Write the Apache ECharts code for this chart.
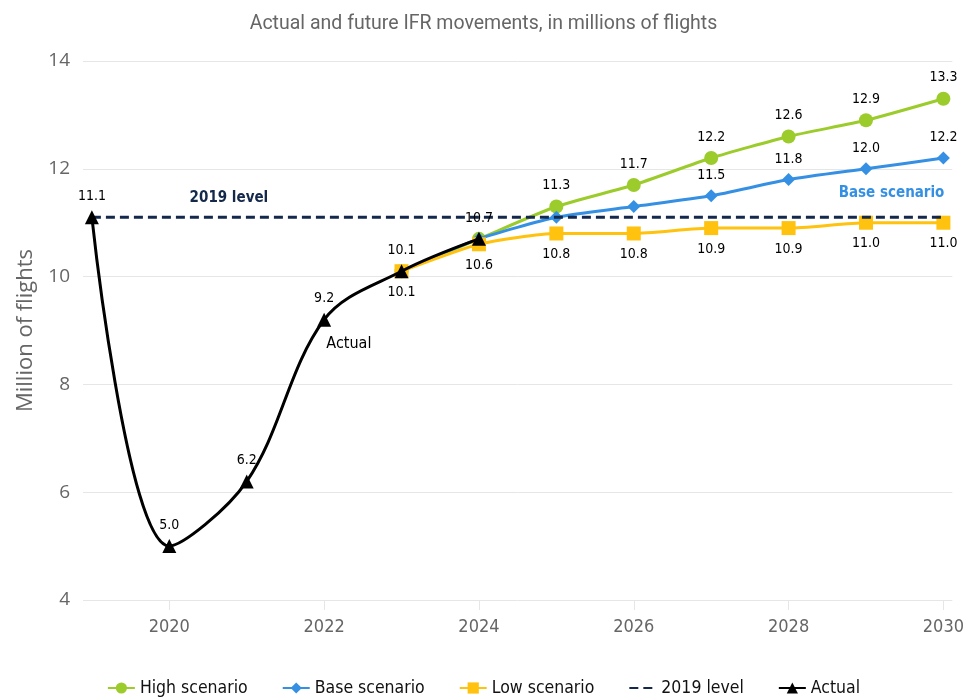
<!DOCTYPE html>
<html>
<head>
<meta charset="utf-8">
<script src="https://cdn.jsdelivr.net/npm/echarts@6/dist/echarts.min.js"></script>
<style>
  html, body { margin: 0; padding: 0; background: #fff; }
  #chart { width: 967px; height: 697px; }
</style>
</head>
<body>
<div id="chart"></div>
<script>
// actual flights, millions
const actualYears = [2019, 2020, 2021, 2022, 2023, 2024]
const actualValues = [11.1, 5.0, 6.2, 9.2, 10.1, 10.7]

// scenarios start from 2023
const forecastYears = [2023, 2024, 2025, 2026, 2027, 2028, 2029, 2030]
const highValues = [10.1, 10.7, 11.3, 11.7, 12.2, 12.6, 12.9, 13.3]
const baseValues = [10.1, 10.7, 11.1, 11.3, 11.5, 11.8, 12.0, 12.2]
const lowValues = [10.1, 10.6, 10.8, 10.8, 10.9, 10.9, 11.0, 11.0]

const level2019Years = [2019, 2030]
const level2019Value = 11.1

const xTickValues = [2020, 2022, 2024, 2026, 2028, 2030]

const green = '#9ccb2c'
const blue = '#3590e3'
const yellow = '#ffc20e'
const navy = '#14284b'
const labelFont = '"DejaVu Sans Condensed", "DejaVu Sans", sans-serif'

// build points, labels shown only from a given year
function points (years, values, labelFrom) {
  return years.map((y, i) => ({
    value: [y, values[i]],
    label: { show: y >= labelFrom }
  }))
}

const fmt = p => p.value[1].toFixed(1)

const dataLabel = (position) => ({
  position: position,
  distance: 7,
  color: '#000',
  fontSize: 14,
  fontFamily: labelFont,
  formatter: fmt
})

const chart = echarts.init(document.getElementById('chart'))

const option = {
  animation: false,
  title: {
    text: 'Actual and future IFR movements, in millions of flights',
    left: 'center',
    top: 9,
    textStyle: {
      color: '#666',
      fontSize: 19.5,
      fontWeight: 'normal',
      fontFamily: 'Roboto, sans-serif'
    }
  },
  legend: {
    top: 674,
    left: 'center',
    itemWidth: 27,
    itemHeight: 14,
    itemGap: 34,
    textStyle: {
      color: '#111',
      fontSize: 17.5,
      fontFamily: labelFont
    },
    data: [
      'High scenario',
      'Base scenario',
      'Low scenario',
      { name: '2019 level', itemStyle: { opacity: 0 } },
      'Actual'
    ]
  },
  grid: {
    left: 83,
    right: 7,
    top: 61,
    bottom: 97
  },
  xAxis: {
    type: 'value',
    min: 2018.885,
    max: 2030.115,
    axisLine: { show: false },
    splitLine: { show: false },
    axisTick: {
      show: true,
      customValues: xTickValues,
      length: 10,
      lineStyle: { color: '#e6e6e6' }
    },
    axisLabel: {
      customValues: xTickValues,
      formatter: v => String(v),
      color: '#666',
      fontSize: 18,
      margin: 18,
      fontFamily: labelFont
    }
  },
  yAxis: {
    type: 'value',
    min: 4,
    max: 14,
    interval: 2,
    name: 'Million of flights',
    nameLocation: 'middle',
    nameGap: 46,
    nameTextStyle: {
      color: '#666',
      fontSize: 22,
      fontFamily: 'Open Sans, sans-serif'
    },
    axisLine: { show: false },
    axisTick: { show: false },
    axisLabel: {
      color: '#666',
      fontSize: 19,
      margin: 13,
      fontFamily: 'Open Sans, sans-serif'
    },
    splitLine: { lineStyle: { color: '#e6e6e6', width: 1 } }
  },
  series: [
    {
      name: 'High scenario',
      type: 'line',
      smooth: 0.2,
      z: 3,
      color: green,
      symbol: 'circle',
      symbolSize: 14,
      lineStyle: { width: 3 },
      label: dataLabel('top'),
      data: points(forecastYears, highValues, 2025)
    },
    {
      name: 'Base scenario',
      type: 'line',
      smooth: 0.2,
      z: 4,
      color: blue,
      symbol: 'diamond',
      symbolSize: 13,
      lineStyle: { width: 3 },
      label: dataLabel('top'),
      data: points(forecastYears, baseValues, 2027),
      markPoint: {
        symbol: 'circle',
        symbolSize: 0,
        label: {
          show: true,
          formatter: 'Base scenario',
          color: blue,
          fontSize: 15,
          fontWeight: 'bold',
          fontFamily: labelFont
        },
        data: [{ coord: [2029.33, 11.55] }]
      }
    },
    {
      name: 'Low scenario',
      type: 'line',
      smooth: 0.2,
      z: 5,
      color: yellow,
      symbol: 'rect',
      symbolSize: 14,
      lineStyle: { width: 3 },
      label: dataLabel('bottom'),
      data: points(forecastYears, lowValues, 2023)
    },
    {
      name: '2019 level',
      type: 'line',
      z: 6,
      color: navy,
      symbol: 'none',
      lineStyle: { width: 3, type: [9, 5] },
      data: level2019Years.map(y => [y, level2019Value]),
      markPoint: {
        symbol: 'circle',
        symbolSize: 0,
        label: {
          show: true,
          formatter: '2019 level',
          color: navy,
          fontSize: 15,
          fontWeight: 'bold',
          fontFamily: labelFont
        },
        data: [{ coord: [2020.77, 11.45] }]
      }
    },
    {
      name: 'Actual',
      type: 'line',
      smooth: 0.35,
      z: 7,
      color: '#000',
      symbol: 'triangle',
      symbolSize: 14,
      lineStyle: { width: 3 },
      label: Object.assign(dataLabel('top'), { show: true }),
      data: actualYears.map((y, i) => [y, actualValues[i]]),
      markPoint: {
        symbol: 'circle',
        symbolSize: 0,
        label: {
          show: true,
          formatter: 'Actual',
          color: '#000',
          fontSize: 16,
          fontFamily: labelFont
        },
        data: [{ coord: [2022.32, 8.75] }]
      }
    }
  ]
}

chart.setOption(option)
</script>
</body>
</html>
